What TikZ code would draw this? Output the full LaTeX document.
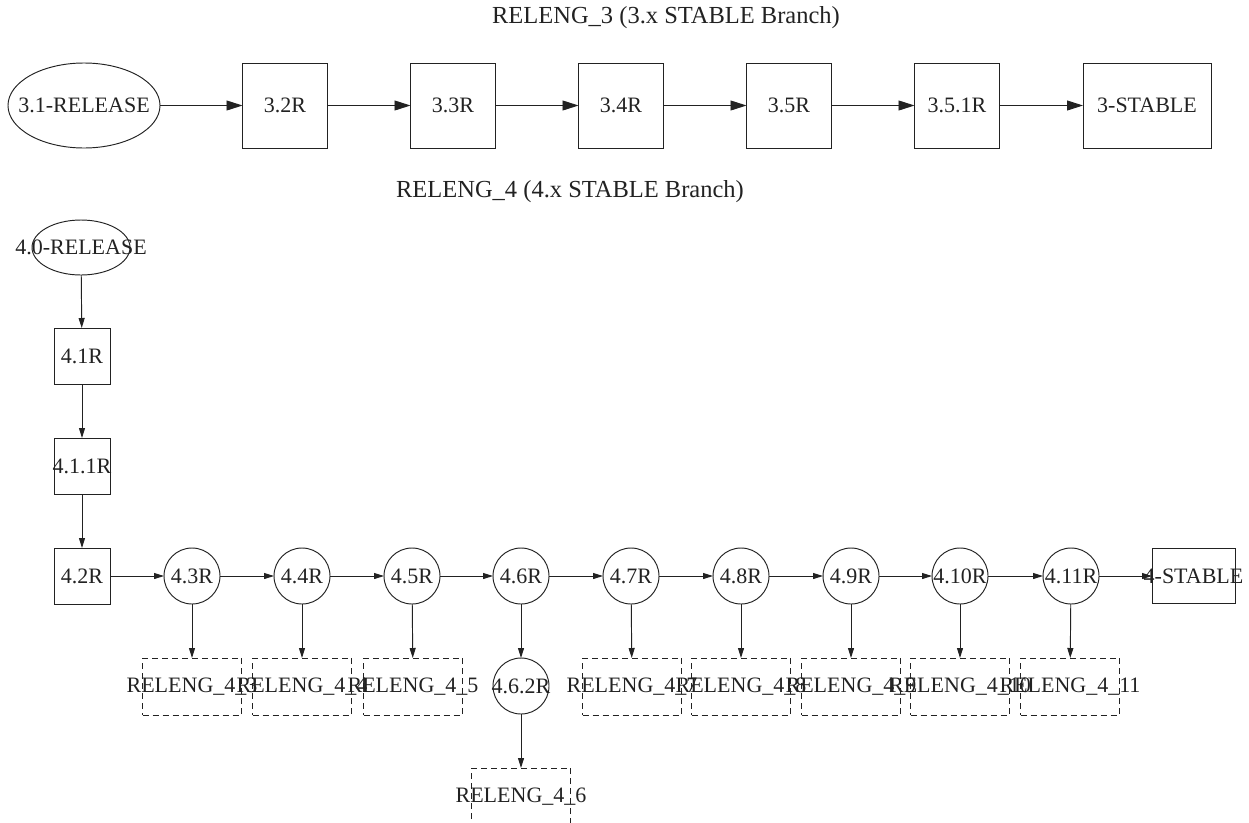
\documentclass[tikz,border=0pt]{standalone}
\usepackage{fontspec}
\setmainfont{Liberation Serif}
\usetikzlibrary{shapes.geometric,arrows.meta}
\newcommand{\lblfont}{\fontsize{22}{26}\selectfont}
\newcommand{\ttlfont}{\fontsize{24.5}{28}\selectfont}
\definecolor{ink}{HTML}{222222}
\tikzset{
  base/.style={draw=ink, line width=0.95pt, inner sep=0pt, outer sep=0pt},
  tbox/.style={base, rectangle, minimum width=85pt, minimum height=85pt},
  tell/.style={base, ellipse, minimum width=152pt, minimum height=85pt},
  sbox/.style={base, rectangle, minimum width=56pt, minimum height=56pt},
  sell/.style={base, ellipse, minimum width=98pt, minimum height=55pt},
  scirc/.style={base, circle, minimum size=56pt},
  dbox/.style={base, rectangle, dash pattern=on 6pt off 4pt, minimum width=99pt, minimum height=57pt},
  ttl/.style={inner sep=0pt, font=\ttlfont, text=ink},
  tarr/.style={draw=ink, line width=0.95pt, -{Triangle[length=16pt,width=10pt]}},
  sarr/.style={draw=ink, line width=0.95pt, -{Triangle[length=10pt,width=6pt]}},
  every label/.style={font=\lblfont, inner sep=0pt, text=ink}
}
\begin{document}
\begin{tikzpicture}[x=1pt,y=-1pt]
\useasboundingbox (0,0) rectangle (1249,822);
% titles
\node[ttl] (t3) at (666,18) {RELENG\_3 (3.x STABLE Branch)};
\node[ttl] (t4) at (570,192) {RELENG\_4 (4.x STABLE Branch)};
% top row
\node[tell, label=center:3.1-RELEASE] (a31) at (84,105.5) {};
\node[tbox, label=center:3.2R] (a32) at (285,105.5) {};
\node[tbox, label=center:3.3R] (a33) at (453,105.5) {};
\node[tbox, label=center:3.4R] (a34) at (621,105.5) {};
\node[tbox, label=center:3.5R] (a35) at (789,105.5) {};
\node[tbox, label=center:3.5.1R] (a351) at (957,105.5) {};
\node[tbox, minimum width=128pt, label=center:3-STABLE] (a3s) at (1147,105.5) {};
\draw[tarr] (a31) -- (a32);
\draw[tarr] (a32) -- (a33);
\draw[tarr] (a33) -- (a34);
\draw[tarr] (a34) -- (a35);
\draw[tarr] (a35) -- (a351);
\draw[tarr] (a351) -- (a3s);
% lower graph
\node[sell, label=center:4.0-RELEASE] (b40) at (81,247.5) {};
\node[sbox, label=center:4.1R] (b41) at (82,356) {};
\node[sbox, label=center:4.1.1R] (b411) at (82,466) {};
\node[sbox, label=center:4.2R] (b42) at (82,576) {};
\node[scirc, label=center:4.3R] (b43) at (192,576) {};
\node[scirc, label=center:4.4R] (b44) at (302,576) {};
\node[scirc, label=center:4.5R] (b45) at (412,576) {};
\node[scirc, label=center:4.6R] (b46) at (521,576) {};
\node[scirc, label=center:4.7R] (b47) at (631,576) {};
\node[scirc, label=center:4.8R] (b48) at (741,576) {};
\node[scirc, label=center:4.9R] (b49) at (851,576) {};
\node[scirc, label=center:4.10R] (b410) at (960,576) {};
\node[scirc, label=center:4.11R] (b411r) at (1071,576) {};
\node[sbox, minimum width=83pt, minimum height=55pt, label=center:4-STABLE] (b4s) at (1193.5,576) {};
\node[scirc, label=center:4.6.2R] (b462) at (521,686) {};
% branch boxes
\node[dbox, label=center:RELENG\_4\_3] (r3) at (192,686.5) {};
\node[dbox, label=center:RELENG\_4\_4] (r4) at (302,686.5) {};
\node[dbox, label=center:RELENG\_4\_5] (r5) at (413,686.5) {};
\node[dbox, label=center:RELENG\_4\_6] (r6) at (521,796.5) {};
\node[dbox, label=center:RELENG\_4\_7] (r7) at (632,686.5) {};
\node[dbox, label=center:RELENG\_4\_8] (r8) at (741,686.5) {};
\node[dbox, label=center:RELENG\_4\_9] (r9) at (851,686.5) {};
\node[dbox, label=center:RELENG\_4\_10] (r10) at (960,686.5) {};
\node[dbox, label=center:RELENG\_4\_11] (r11) at (1070,686.5) {};
% edges
\draw[sarr] (b40) -- (b41);
\draw[sarr] (b41) -- (b411);
\draw[sarr] (b411) -- (b42);
\draw[sarr] (b42) -- (b43);
\draw[sarr] (b43) -- (b44);
\draw[sarr] (b44) -- (b45);
\draw[sarr] (b45) -- (b46);
\draw[sarr] (b46) -- (b47);
\draw[sarr] (b47) -- (b48);
\draw[sarr] (b48) -- (b49);
\draw[sarr] (b49) -- (b410);
\draw[sarr] (b410) -- (b411r);
\draw[sarr] (b411r) -- (b4s);
\draw[sarr] (b43) -- (r3);
\draw[sarr] (b44) -- (r4);
\draw[sarr] (b45) -- (r5);
\draw[sarr] (b46) -- (b462);
\draw[sarr] (b462) -- (r6);
\draw[sarr] (b47) -- (r7);
\draw[sarr] (b48) -- (r8);
\draw[sarr] (b49) -- (r9);
\draw[sarr] (b410) -- (r10);
\draw[sarr] (b411r) -- (r11);
\end{tikzpicture}
\end{document}
